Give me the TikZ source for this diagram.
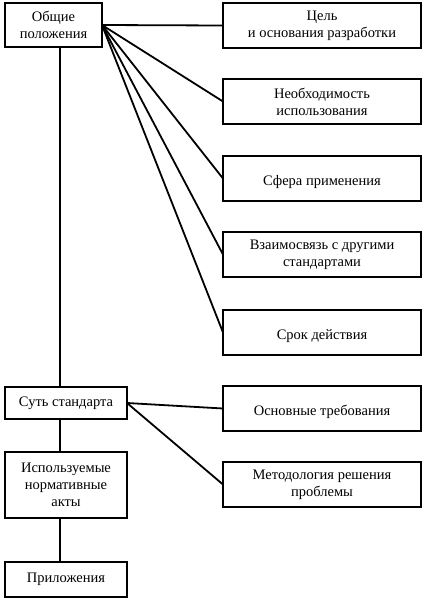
\documentclass[tikz,border=0pt]{standalone}
\usepackage{fontspec}
\setmainfont{Liberation Serif}
\usetikzlibrary{positioning}

\begin{document}
\begin{tikzpicture}[
    x=1pt, y=-1pt,
    conn/.style={line width=1.8pt},
    box/.style={draw, line width=1.8pt, align=center, inner sep=2pt,
                outer sep=0pt, font=\fontsize{14.5}{17}\selectfont},
    leftbox/.style={box, anchor=north west, minimum width=122pt},
    rightbox/.style={box, anchor=north west, minimum width=198pt,
                     minimum height=45pt}
  ]
  \useasboundingbox[fill=white] (0,0) rectangle (425,600);

  % left column
  \node[leftbox, minimum width=97pt, minimum height=44pt] (general) at (5,3)
    {Общие\\положения};
  \node[leftbox, minimum height=32pt] (essence) at (5,387) {Суть стандарта};
  \node[leftbox, minimum height=66pt, below=33pt of essence.south west,
        anchor=north west] (acts) {Используемые\\нормативные\\акты};
  \node[leftbox, minimum height=35pt, below=44pt of acts.south west,
        anchor=north west] (appendix) {Приложения};

  % right column
  \node[rightbox] (goal) at (223,3) {Цель\\и основания разработки};
  \node[rightbox, below=31pt of goal.south west, anchor=north west] (need)
    {Необходимость\\использования};
  \node[rightbox, below=32pt of need.south west, anchor=north west] (scope)
    {\mbox{}\\Сфера применения};
  \node[rightbox, below=31pt of scope.south west, anchor=north west] (relation)
    {Взаимосвязь с другими\\стандартами};
  \node[rightbox, below=33pt of relation.south west, anchor=north west] (term)
    {\mbox{}\\Срок действия};
  \node[rightbox, below=31pt of term.south west, anchor=north west] (reqs)
    {\mbox{}\\Основные требования};
  \node[rightbox, below=31pt of reqs.south west, anchor=north west] (method)
    {Методология решения\\проблемы};

  % spine
  \draw[conn] ([xshift=55pt]general.south west) -- ([xshift=55pt]essence.north west);
  \draw[conn] ([xshift=55pt]essence.south west) -- ([xshift=55pt]acts.north west);
  \draw[conn] ([xshift=55pt]acts.south west) -- ([xshift=55pt]appendix.north west);

  % fan-out
  \foreach \target in {goal, need, scope, relation, term}
    \draw[conn] (general.east) -- (\target.west);
  \foreach \target in {reqs, method}
    \draw[conn] (essence.east) -- (\target.west);
\end{tikzpicture}
\end{document}
